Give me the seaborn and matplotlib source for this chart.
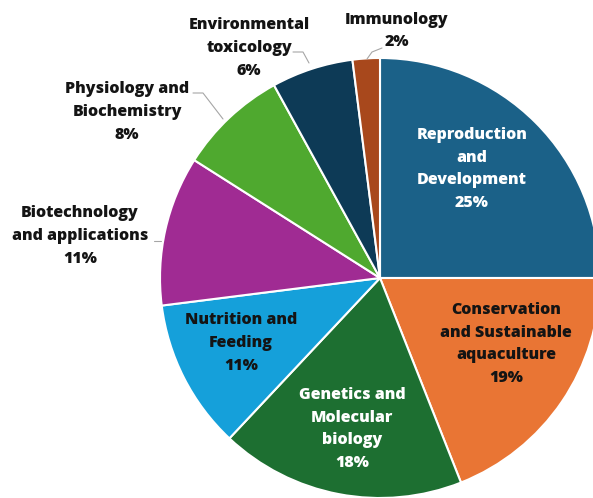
import matplotlib
matplotlib.use("Agg")
import matplotlib.pyplot as plt
import seaborn as sns

# Data
topics = ["Reproduction\nand\nDevelopment", "Conservation\nand Sustainable\naquaculture",
          "Genetics and\nMolecular\nbiology", "Nutrition and\nFeeding",
          "Biotechnology\nand applications", "Physiology and\nBiochemistry",
          "Environmental\ntoxicology", "Immunology"]
shares = [25, 19, 18, 11, 11, 8, 6, 2]
colors = ["#1b6188", "#e97534", "#1d6f31", "#15a0da", "#a02b93", "#4fa92f", "#0d3a56", "#a8481c"]
text_colors = ["white", "#141414", "white", "#141414", "#141414", "#141414", "#141414", "#141414"]

# label centres in pixels (x, y from top)
label_pos = [(472, 169), (506, 344), (352, 429), (241, 343),
             (80, 236), (127, 112), (249, 48), (397, 31)]
# leader lines in pixels for outside labels
leaders = [[(154, 241), (161, 241)],
           [(193, 93), (203, 93), (223, 119)],
           [(293, 52), (303, 52), (309, 63)],
           [(382, 48), (372, 52), (367, 59)]]

sns.set_style("white")
plt.rcParams['font.family'] = ['Open Sans', 'DejaVu Sans']

W, H = 593, 498
cx, cy, R = 380, 278, 220


def px(x, y):
    return (x - cx) / R, (cy - y) / R


fig = plt.figure(figsize=(W / 100, H / 100), dpi=100)
ax = fig.add_axes([0, 0, 1, 1])
ax.pie(shares, colors=colors, startangle=90, counterclock=False, radius=1,
       wedgeprops=dict(edgecolor="white", linewidth=1.5))
ax.set_xlim(-cx / R, (W - cx) / R)
ax.set_ylim(-(H - cy) / R, cy / R)
ax.set_aspect("auto")
ax.axis("off")

for name, pct, (x, y), tc in zip(topics, shares, label_pos, text_colors):
    tx, ty = px(x, y)
    ax.text(tx, ty, f"{name}\n{pct}%", ha="center", va="center", color=tc,
            fontsize=11.5, fontweight=800, linespacing=1.55)

for pts in leaders:
    xs, ys = zip(*[px(a, b) for a, b in pts])
    ax.plot(xs, ys, color="#a6a6a6", lw=0.8)

fig.savefig("out.png", dpi=100)
